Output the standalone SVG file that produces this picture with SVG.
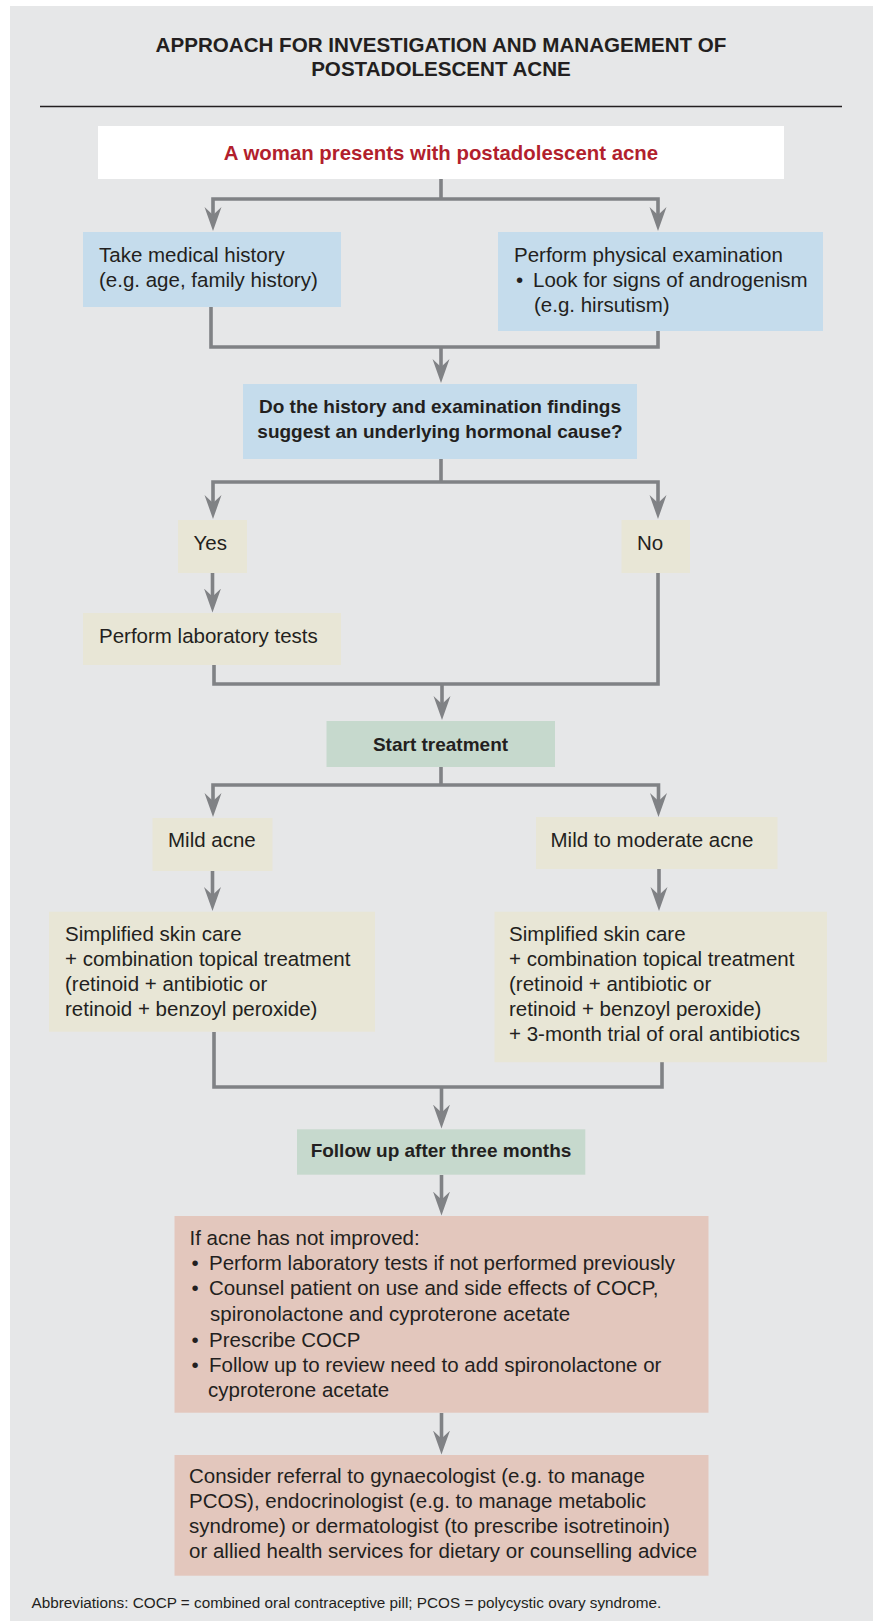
<svg xmlns="http://www.w3.org/2000/svg" width="873" height="1621" viewBox="0 0 873 1621">
<style>
text{font-family:"Liberation Sans",Arial,sans-serif;fill:#231f20}
.t{font-size:20.5px}
.b{font-size:19px;font-weight:bold;text-anchor:middle}
.title{font-size:20.6px;font-weight:bold;text-anchor:middle}
.red{font-size:20.4px;font-weight:bold;text-anchor:middle;fill:#b21f2d}
.ab{font-size:15.3px}
.blue{fill:#c5dcec}
.beige{fill:#e8e6d6}
.green{fill:#c6d9cd}
.pink{fill:#e3c7bd}
.c{fill:none;stroke:#808285;stroke-width:3.6;stroke-linejoin:miter}
</style>
<defs>
<marker id="arr" markerUnits="userSpaceOnUse" markerWidth="26" markerHeight="18" viewBox="0 0 26 18" refX="12" refY="9" orient="auto">
<path d="M0,0.5 L24,9 L0,17.5 L8,9 Z" fill="#808285"/>
</marker>
</defs>
<rect x="10" y="6" width="863" height="1615" fill="#e6e7e8"/>
<g id="title">
<text class="title" x="441" y="52">APPROACH FOR INVESTIGATION AND MANAGEMENT OF</text>
<text class="title" x="441" y="76">POSTADOLESCENT ACNE</text>
<line x1="40" y1="106.5" x2="842" y2="106.5" stroke="#231f20" stroke-width="1.3"/>
</g>
<g id="connectors">
<path class="c" d="M441,179 V199"/>
<path class="c" d="M441,199 H213 V219" marker-end="url(#arr)"/>
<path class="c" d="M441,199 H658 V219" marker-end="url(#arr)"/>
<path class="c" d="M211,307 V347 H658 V331"/>
<path class="c" d="M441,347 V371" marker-end="url(#arr)"/>
<path class="c" d="M441,459 V482"/>
<path class="c" d="M441,482 H213 V507" marker-end="url(#arr)"/>
<path class="c" d="M441,482 H658 V507" marker-end="url(#arr)"/>
<path class="c" d="M212.5,573 V600.5" marker-end="url(#arr)"/>
<path class="c" d="M214,665 V684 H658 V573"/>
<path class="c" d="M442,684 V708" marker-end="url(#arr)"/>
<path class="c" d="M441,767 V785"/>
<path class="c" d="M441,785 H213 V805" marker-end="url(#arr)"/>
<path class="c" d="M441,785 H658.5 V805" marker-end="url(#arr)"/>
<path class="c" d="M212.5,871 V899" marker-end="url(#arr)"/>
<path class="c" d="M659,869 V899" marker-end="url(#arr)"/>
<path class="c" d="M214,1032 V1087 H662 V1062"/>
<path class="c" d="M441.5,1087 V1116.5" marker-end="url(#arr)"/>
<path class="c" d="M441.5,1175 V1203.5" marker-end="url(#arr)"/>
<path class="c" d="M441.5,1413 V1442.5" marker-end="url(#arr)"/>
</g>
<g id="n_start">
<rect x="98" y="126" width="686" height="53" fill="#ffffff"/>
<text class="red" x="441" y="160">A woman presents with postadolescent acne</text>
</g>
<g id="n_history">
<rect class="blue" x="83" y="232" width="258" height="75"/>
<text class="t" x="99" y="262">Take medical history</text>
<text class="t" x="99" y="287">(e.g. age, family history)</text>
</g>
<g id="n_exam">
<rect class="blue" x="498" y="232" width="325" height="99"/>
<text class="t" x="514" y="262">Perform physical examination</text>
<text class="t" x="516" y="287">•</text>
<text class="t" x="533" y="287">Look for signs of androgenism</text>
<text class="t" x="534" y="312">(e.g. hirsutism)</text>
</g>
<g id="n_question">
<rect class="blue" x="243" y="384" width="394" height="75"/>
<text class="b" x="440" y="413">Do the history and examination findings</text>
<text class="b" x="440" y="438">suggest an underlying hormonal cause?</text>
</g>
<g id="n_yes">
<rect class="beige" x="178" y="520" width="69" height="53"/>
<text class="t" x="193.5" y="550">Yes</text>
</g>
<g id="n_no">
<rect class="beige" x="621.5" y="520" width="68.5" height="53"/>
<text class="t" x="637" y="550">No</text>
</g>
<g id="n_lab">
<rect class="beige" x="83" y="613" width="258" height="52"/>
<text class="t" x="99" y="643">Perform laboratory tests</text>
</g>
<g id="n_treat">
<rect class="green" x="326.5" y="721" width="228.5" height="46"/>
<text class="b" x="440.5" y="750.5">Start treatment</text>
</g>
<g id="n_mild">
<rect class="beige" x="152.5" y="818" width="120" height="53"/>
<text class="t" x="168" y="846.7">Mild acne</text>
</g>
<g id="n_moderate">
<rect class="beige" x="536" y="817" width="241.5" height="52"/>
<text class="t" x="550.5" y="846.7">Mild to moderate acne</text>
</g>
<g id="n_tx_mild">
<rect class="beige" x="49" y="911.7" width="326" height="120"/>
<text class="t" x="65" y="940.7">Simplified skin care</text>
<text class="t" x="65" y="965.7">+ combination topical treatment</text>
<text class="t" x="65" y="990.7">(retinoid + antibiotic or</text>
<text class="t" x="65" y="1015.7">retinoid + benzoyl peroxide)</text>
</g>
<g id="n_tx_moderate">
<rect class="beige" x="494.5" y="911.7" width="332.5" height="150.5"/>
<text class="t" x="509" y="940.7">Simplified skin care</text>
<text class="t" x="509" y="965.7">+ combination topical treatment</text>
<text class="t" x="509" y="990.7">(retinoid + antibiotic or</text>
<text class="t" x="509" y="1015.7">retinoid + benzoyl peroxide)</text>
<text class="t" x="509" y="1040.7">+ 3-month trial of oral antibiotics</text>
</g>
<g id="n_follow">
<rect class="green" x="297" y="1129.3" width="288.3" height="45.4"/>
<text class="b" x="441" y="1157.3">Follow up after three months</text>
</g>
<g id="n_notimproved">
<rect class="pink" x="174.5" y="1216" width="534" height="196.7"/>
<text class="t" x="189.5" y="1245">If acne has not improved:</text>
<text class="t" x="191.5" y="1270">•</text>
<text class="t" x="209" y="1270">Perform laboratory tests if not performed previously</text>
<text class="t" x="191.5" y="1295">•</text>
<text class="t" x="209" y="1295">Counsel patient on use and side effects of COCP,</text>
<text class="t" x="210" y="1321">spironolactone and cyproterone acetate</text>
<text class="t" x="191.5" y="1346.5">•</text>
<text class="t" x="209" y="1346.5">Prescribe COCP</text>
<text class="t" x="191.5" y="1371.5">•</text>
<text class="t" x="209" y="1371.5">Follow up to review need to add spironolactone or</text>
<text class="t" x="208" y="1397">cyproterone acetate</text>
</g>
<g id="n_referral">
<rect class="pink" x="174.5" y="1455" width="534" height="120.7"/>
<text class="t" x="189" y="1483.3">Consider referral to gynaecologist (e.g. to manage</text>
<text class="t" x="189" y="1508.3">PCOS), endocrinologist (e.g. to manage metabolic</text>
<text class="t" x="189" y="1533.3">syndrome) or dermatologist (to prescribe isotretinoin)</text>
<text class="t" x="189" y="1558.3">or allied health services for dietary or counselling advice</text>
</g>
<g id="abbrev">
<text class="ab" x="31.5" y="1608.3">Abbreviations: COCP = combined oral contraceptive pill; PCOS = polycystic ovary syndrome.</text>
</g>
</svg>
